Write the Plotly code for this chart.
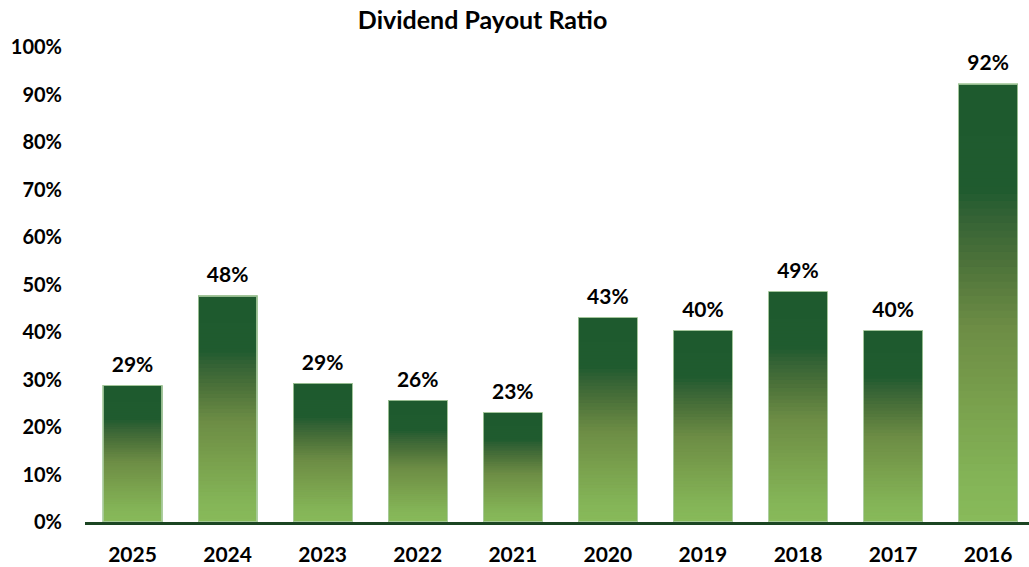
import plotly.graph_objects as go

years = ["2025", "2024", "2023", "2022", "2021", "2020", "2019", "2018", "2017", "2016"]
payout = [28.7, 47.6, 29.2, 25.6, 23.0, 43.0, 40.3, 48.5, 40.3, 92.2]
labels = ["29%", "48%", "29%", "26%", "23%", "43%", "40%", "49%", "40%", "92%"]
yticks = [0, 10, 20, 30, 40, 50, 60, 70, 80, 90, 100]
ytick_text = [f"{v}%" for v in yticks]

# gradient stops (fraction of bar height from the bottom, colour)
stops = [(0.0, (0x88, 0xBA, 0x5A)), (0.1, (0x84, 0xB4, 0x57)), (0.3, (0x77, 0x9D, 0x4B)),
         (0.45, (0x6C, 0x8C, 0x45)), (0.6, (0x4B, 0x71, 0x39)), (0.7, (0x33, 0x62, 0x35)),
         (0.76, (0x1F, 0x5B, 0x2F)), (1.0, (0x1E, 0x5A, 0x2E))]


def grad(f):
    for (f0, c0), (f1, c1) in zip(stops[:-1], stops[1:]):
        if f0 <= f <= f1:
            t = (f - f0) / (f1 - f0) if f1 > f0 else 0
            c = [round(a + (b - a) * t) for a, b in zip(c0, c1)]
            return f"rgb({c[0]},{c[1]},{c[2]})"
    return "rgb(30,90,46)"


N = 60
fig = go.Figure()
for k in range(N):
    col = grad((k + 0.5) / N)
    fig.add_trace(go.Bar(
        x=years, y=[v / N for v in payout],
        marker=dict(color=col, line=dict(color=col, width=0.6)),
        hoverinfo="skip", showlegend=False,
    ))

# thin light outline around each bar
fig.add_trace(go.Bar(
    x=years, y=payout, base=0,
    marker=dict(color="rgba(0,0,0,0)", line=dict(color="rgba(170,205,160,0.85)", width=1.2)),
    hoverinfo="skip", showlegend=False,
))

# value labels above the bars
fig.add_trace(go.Scatter(
    x=years, y=payout, mode="markers+text", text=labels, textposition="top center",
    marker=dict(size=12, color="rgba(0,0,0,0)"), cliponaxis=False,
    textfont=dict(family="Lato", size=21, color="#000000", weight="bold"),
    hoverinfo="skip", showlegend=False,
))

fig.update_layout(
    width=1029, height=567,
    barmode="stack", bargap=0.38,
    paper_bgcolor="white", plot_bgcolor="white",
    margin=dict(l=85, r=0, t=47, b=45),
    title=dict(text="<b>Dividend Payout Ratio</b>", x=0.469, xanchor="center",
               y=0.965, yanchor="middle",
               font=dict(family="Lato", size=25, color="#000000")),
    font=dict(family="Lato", color="#000000"),
)
fig.update_yaxes(range=[0, 100], tickvals=yticks, ticktext=ytick_text,
                 showgrid=False, zeroline=False, showline=False, automargin=False,
                 ticks="", ticklabelstandoff=22,
                 tickfont=dict(family="Lato", size=20, color="#000000", weight="bold"))
fig.update_xaxes(range=[-0.5, 9.43], showgrid=False, showline=True,
                 linecolor="#1B4522", linewidth=3,
                 ticks="", ticklabelstandoff=12, automargin=False,
                 tickfont=dict(family="Lato", size=21, color="#000000", weight="bold"))

fig.write_html("out.html", post_script="document.body.style.margin='0';",
               config={"displayModeBar": False})
